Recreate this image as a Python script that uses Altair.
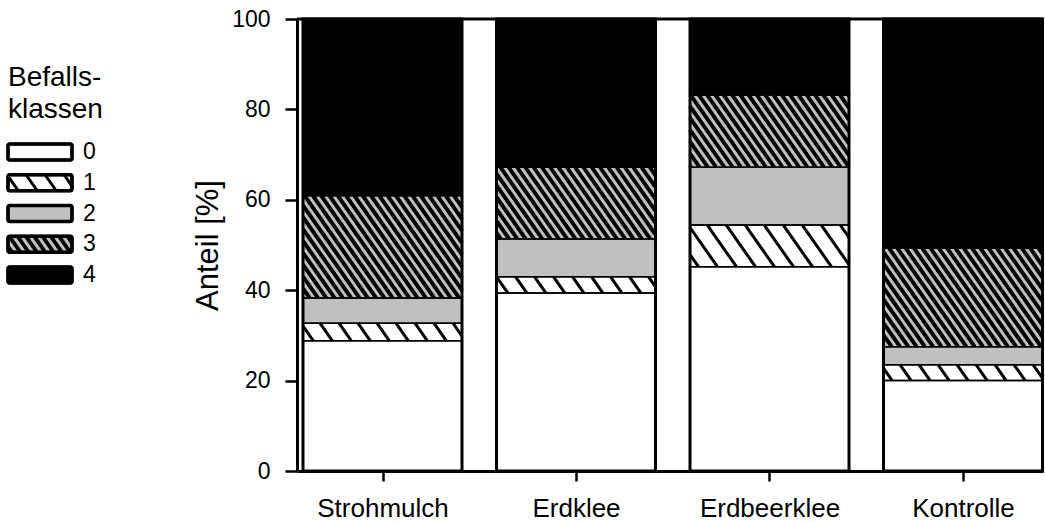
import math
import altair as alt
import pandas as pd

# ---------------- data ----------------
categories = ["Strohmulch", "Erdklee", "Erdbeerklee", "Kontrolle"]
classes = ["0", "1", "2", "3", "4"]
# share (%) of each infestation class per treatment
class0 = [28.8, 39.4, 45.2, 20.0]
class1 = [3.9, 3.6, 9.2, 3.5]
class2 = [5.6, 8.3, 12.8, 4.0]
class3 = [22.6, 15.9, 16.0, 21.8]
class4 = [39.1, 32.8, 16.8, 50.7]
y_ticks = [0, 20, 40, 60, 80, 100]
legend_title = ["Befalls-", "klassen"]

series = [class0, class1, class2, class3, class4]
fills = ["#ffffff", "#ffffff", "#c0c0c0", "#c0c0c0", "#000000"]
FONT = "Liberation Sans"

# ---------------- layout ----------------
PAD_L, PAD_T, PAD_R, PAD_B = 297, 19, 2, 51
W, H = 746, 452
STEP = 193.5
X_MIN = -85.5 / STEP
X_MAX = X_MIN + W / STEP
HALF = 79.5 / STEP
Y_MAX = 100.0

THETA = math.radians(55)
M = 1 / math.tan(THETA)
HATCH = {"1": (19.0, 3.0), "3": (8.3, 3.9)}  # horizontal spacing px, stroke width


def px(xd):
    return (xd - X_MIN) * STEP


def py(yd):
    return H - yd * H / Y_MAX


def ix(p):
    return X_MIN + p / STEP


def iy(p):
    return (H - p) * Y_MAX / H


def hatch(x0, x1, y0, y1, sh, m):
    segs = []
    a_lo, a_hi = x0 - y1 * m, x1 - y0 * m
    k = math.floor(a_lo / sh)
    while k * sh <= a_hi:
        a = k * sh
        ylo = max(y0, (x0 - a) / m)
        yhi = min(y1, (x1 - a) / m)
        if yhi - ylo > 0.5:
            segs.append((a + ylo * m, ylo, a + yhi * m, yhi))
        k += 1
    return segs


rows, hrows, outline = [], [], []
for i, cat in enumerate(categories):
    base = 0.0
    outline.append(dict(cat=cat, xl=i - HALF, xr=i + HALF, y0=0, y1=Y_MAX))
    for c, cls in enumerate(classes):
        v = series[c][i]
        rows.append(dict(cat=cat, cls=cls, xl=i - HALF, xr=i + HALF, y0=base, y1=base + v))
        if cls in HATCH:
            sh, _ = HATCH[cls]
            for xa, ya, xb, yb in hatch(px(i - HALF), px(i + HALF), py(base + v), py(base), sh, M):
                hrows.append(dict(cls=cls, xa=ix(xa), ya=iy(ya), xb=ix(xb), yb=iy(yb)))
        base += v

seg = pd.DataFrame(rows)
hat = pd.DataFrame(hrows)
out = pd.DataFrame(outline)


def xs():
    return alt.Scale(domain=[X_MIN, X_MAX], nice=False, zero=False)


def ys():
    return alt.Scale(domain=[0, Y_MAX], nice=False, zero=False)


cscale = alt.Scale(domain=classes, range=fills)

label_expr = "[" + ",".join("'%s'" % c for c in categories) + "][datum.value]"
x_axis = alt.Axis(values=list(range(len(categories))), labelExpr=label_expr, title=None,
                  tickSize=10, tickWidth=2.5, domainWidth=3, labelFontSize=26, labelPadding=14,
                  grid=False, labelFont=FONT, domainColor="black", tickColor="black", labelColor="black")
y_axis = alt.Axis(values=y_ticks, title="Anteil [%]", tickSize=12, tickWidth=2.5, domainWidth=3,
                  labelFontSize=23, labelPadding=15, titleFontSize=31, titlePadding=7,
                  titleFontWeight="normal", grid=False, labelFont=FONT, titleFont=FONT,
                  domainColor="black", tickColor="black", labelColor="black", titleColor="black")

fill_layer = alt.Chart(seg).mark_rect(strokeWidth=0).encode(
    x=alt.X("xl:Q", scale=xs(), axis=x_axis),
    x2="xr:Q",
    y=alt.Y("y0:Q", scale=ys(), axis=y_axis),
    y2="y1:Q",
    fill=alt.Fill("cls:N", scale=cscale, legend=None),
)

hatch_layers = []
for cls, (sh, sw) in HATCH.items():
    hatch_layers.append(
        alt.Chart(hat).transform_filter(alt.datum.cls == cls).mark_rule(color="black", strokeWidth=sw).encode(
            x=alt.X("xa:Q", scale=xs(), axis=None), x2="xb:Q",
            y=alt.Y("ya:Q", scale=ys(), axis=None), y2="yb:Q")
    )

stroke_layer = alt.Chart(seg).mark_rect(fill="white", fillOpacity=0, stroke="black", strokeWidth=1.5).encode(
    x=alt.X("xl:Q", scale=xs(), axis=None), x2="xr:Q",
    y=alt.Y("y0:Q", scale=ys(), axis=None), y2="y1:Q")

outline_layer = alt.Chart(out).mark_rect(fill="white", fillOpacity=0, stroke="black", strokeWidth=3).encode(
    x=alt.X("xl:Q", scale=xs(), axis=None), x2="xr:Q",
    y=alt.Y("y0:Q", scale=ys(), axis=None), y2="y1:Q")

frame = alt.Chart(pd.DataFrame({"v": [Y_MAX]})).mark_rule(color="black", strokeWidth=3).encode(
    y=alt.Y("v:Q", scale=ys(), axis=None))

# ---------------- legend (drawn as marks in the left margin) ----------------
LX0, LW = -289.0, 64.0
LY0, LSTEP = 133.0, 30.75
LHALF = 8.0 / LSTEP


def lpx(u):
    return LX0 + u * LW


def lpy(v):
    return LY0 + v * LSTEP


def liu(p):
    return (p - LX0) / LW


def liv(p):
    return (p - LY0) / LSTEP


lrows, lh = [], []
for k, cls in enumerate(classes):
    lrows.append(dict(cls=cls, k=k, u0=0.0, u1=1.0, v0=k - LHALF, v1=k + LHALF))
    if cls in HATCH:
        sh, _ = HATCH[cls]
        for xa, ya, xb, yb in hatch(lpx(0), lpx(1), lpy(k - LHALF), lpy(k + LHALF), sh, M):
            lh.append(dict(cls=cls, xa=liu(xa), ya=liv(ya), xb=liu(xb), yb=liv(yb)))
leg = pd.DataFrame(lrows)
legh = pd.DataFrame(lh)
ltitle = pd.DataFrame({"t": legend_title, "v": [-2.42, -1.37], "u": [0.0, 0.0]})


def lxs():
    return alt.Scale(domain=[0, 1], range=[LX0, LX0 + LW], nice=False, zero=False)


def lys():
    return alt.Scale(domain=[0, 4], range=[LY0, LY0 + 4 * LSTEP], nice=False, zero=False)


leg_fill = alt.Chart(leg).mark_rect(stroke="black", strokeWidth=3, cornerRadius=2).encode(
    x=alt.X("u0:Q", scale=lxs(), axis=None), x2="u1:Q",
    y=alt.Y("v0:Q", scale=lys(), axis=None), y2="v1:Q",
    fill=alt.Fill("cls:N", scale=cscale, legend=None))
leg_hatch = []
for cls, (sh, sw) in HATCH.items():
    leg_hatch.append(
        alt.Chart(legh).transform_filter(alt.datum.cls == cls).mark_rule(color="black", strokeWidth=sw).encode(
            x=alt.X("xa:Q", scale=lxs(), axis=None), x2="xb:Q",
            y=alt.Y("ya:Q", scale=lys(), axis=None), y2="yb:Q"))
leg_border = alt.Chart(leg).mark_rect(fill="white", fillOpacity=0, stroke="black", strokeWidth=3.5,
                                      cornerRadius=2).encode(
    x=alt.X("u0:Q", scale=lxs(), axis=None), x2="u1:Q",
    y=alt.Y("v0:Q", scale=lys(), axis=None), y2="v1:Q")
leg_text = alt.Chart(leg).mark_text(align="left", baseline="middle", dx=11, fontSize=23, font=FONT,
                                    color="black").encode(
    x=alt.X("u1:Q", scale=lxs(), axis=None), y=alt.Y("k:Q", scale=lys(), axis=None), text="cls:N")
leg_title = alt.Chart(ltitle).mark_text(align="left", baseline="middle", fontSize=28, font=FONT,
                                        color="black").encode(
    x=alt.X("u:Q", scale=lxs(), axis=None), y=alt.Y("v:Q", scale=lys(), axis=None), text="t:N")

chart = alt.layer(
    fill_layer, *hatch_layers, stroke_layer, outline_layer, frame,
    leg_fill, *leg_hatch, leg_border, leg_text, leg_title,
).resolve_scale(
    x="independent", y="independent", fill="independent"
).properties(
    width=W, height=H,
    padding={"left": PAD_L, "top": PAD_T, "right": PAD_R, "bottom": PAD_B},
    autosize=alt.AutoSizeParams(type="none"),
    background="white",
).configure_view(stroke=None)

chart.save("out.html", embed_options={"renderer": "svg", "actions": False})
